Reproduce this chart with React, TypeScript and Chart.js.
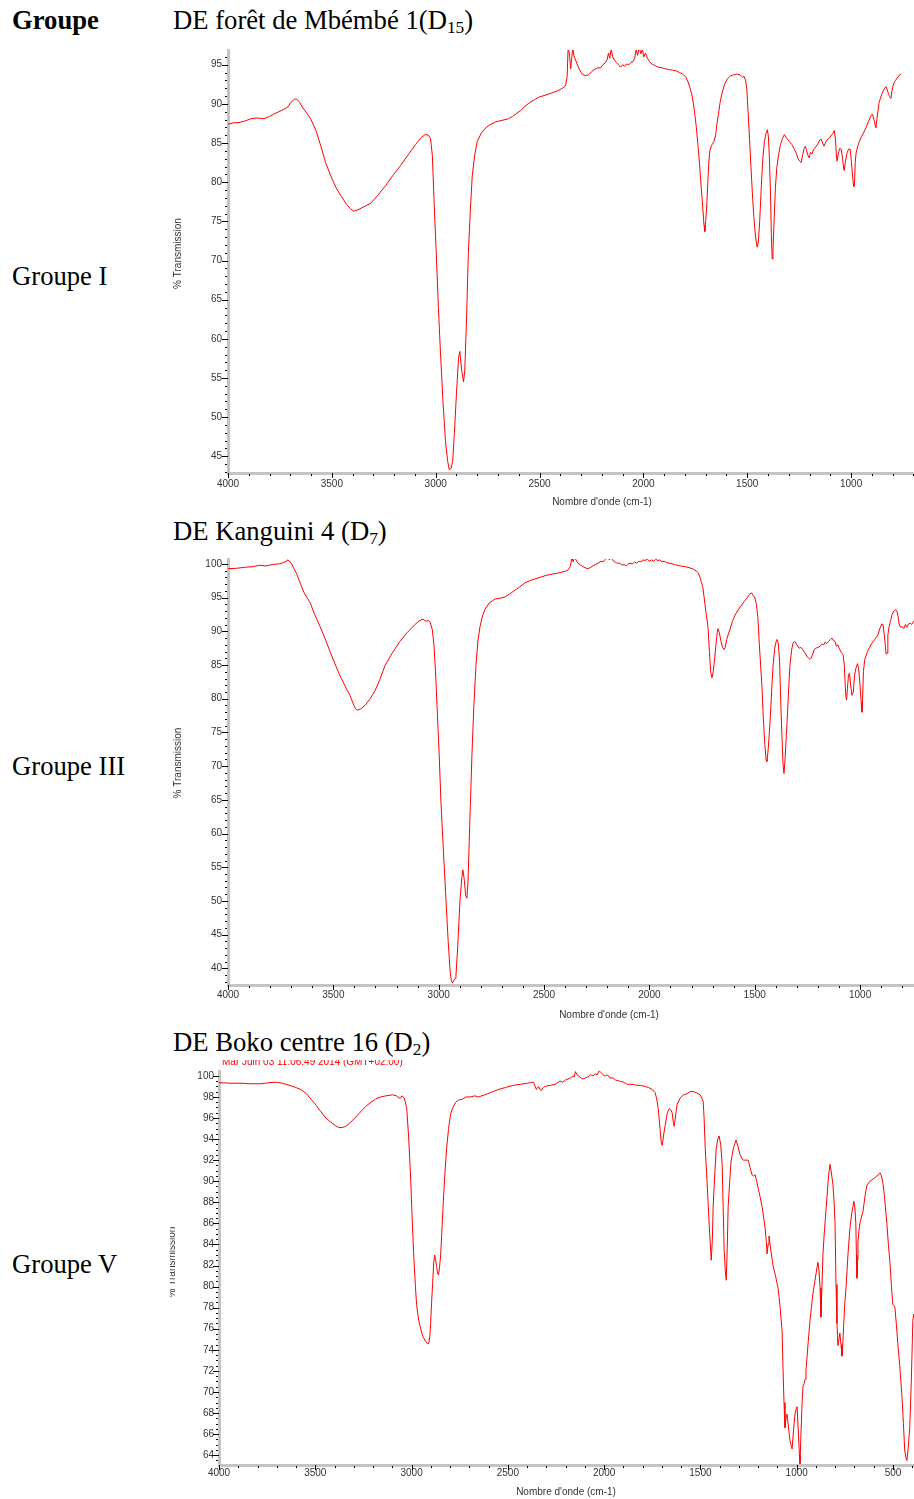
import React, { useEffect, useRef } from 'react';
import { Chart, registerables } from 'chart.js';

Chart.register(...registerables);

// ---------- Spectrum D15 : DE forêt de Mbémbé 1 ----------
const d15Wavenumber = [
  4000, 3970, 3952, 3920, 3890, 3860, 3827, 3800, 3779, 3755, 3731, 3712, 3697, 3680, 3669, 3655, 3640, 3620, 3600, 3575,
  3553, 3530, 3505, 3480, 3457, 3430, 3410, 3395, 3380, 3350, 3313, 3280, 3240, 3205, 3170, 3130, 3097, 3070, 3050, 3035,
  3025, 3016, 3007, 2997, 2987, 2977, 2965, 2953, 2943, 2935, 2925, 2918, 2910, 2900, 2890, 2884, 2875, 2866, 2860, 2852,
  2843, 2833, 2824, 2812, 2800, 2780, 2761, 2740, 2713, 2680, 2650, 2630, 2610, 2593, 2570, 2545, 2520, 2500, 2473, 2440,
  2410, 2390, 2375, 2367, 2362, 2355, 2350, 2345, 2340, 2335, 2325, 2310, 2295, 2280, 2265, 2250, 2235, 2220, 2205, 2195,
  2185, 2175, 2168, 2162, 2155, 2148, 2140, 2130, 2120, 2110, 2100, 2090, 2080, 2070, 2060, 2050, 2042, 2035, 2028, 2020,
  2012, 2005, 1998, 1990, 1980, 1970, 1960, 1945, 1930, 1910, 1897, 1880, 1860, 1840, 1825, 1810, 1795, 1785, 1775, 1765,
  1755, 1745, 1737, 1729, 1722, 1715, 1708, 1704, 1700, 1695, 1690, 1685, 1680, 1672, 1660, 1652, 1645, 1638, 1630, 1620,
  1609, 1595, 1580, 1565, 1550, 1535, 1522, 1515, 1508, 1502, 1496, 1489, 1482, 1475, 1468, 1460, 1452, 1446, 1440, 1432,
  1425, 1417, 1410, 1403, 1398, 1393, 1388, 1384, 1380, 1376, 1370, 1364, 1357, 1349, 1340, 1330, 1321, 1310, 1297, 1285,
  1275, 1264, 1255, 1248, 1240, 1233, 1226, 1220, 1214, 1207, 1201, 1196, 1188, 1180, 1170, 1160, 1150, 1144, 1137, 1130,
  1122, 1113, 1105, 1097, 1088, 1081, 1075, 1070, 1067, 1062, 1055, 1047, 1041, 1036, 1033, 1028, 1020, 1012, 1004, 998,
  992, 987, 984, 980, 976, 968, 960, 950, 940, 928, 915, 905, 899, 894, 888, 883, 880, 876, 870, 865,
  860, 853, 846, 838, 832, 826, 820, 814, 808, 804, 798, 793, 786, 778, 770, 760,
];
const d15Transmission = [
  87.4, 87.6, 87.6, 87.8, 88.1, 88.2, 88.1, 88.4, 88.7, 89.0, 89.3, 89.6, 90.2, 90.6, 90.6, 90.2, 89.5, 88.8, 88.0, 86.5,
  84.6, 82.5, 80.8, 79.3, 78.3, 77.2, 76.6, 76.3, 76.4, 76.8, 77.3, 78.3, 79.6, 80.9, 82.1, 83.6, 84.8, 85.7, 86.1, 86.0,
  85.6, 83.4, 77.0, 70.8, 64.0, 58.3, 52.0, 47.0, 44.5, 43.3, 43.5, 44.5, 48.0, 53.0, 57.5, 58.4, 56.0, 54.5, 56.0, 62.0,
  70.8, 76.5, 80.8, 83.5, 85.2, 86.3, 86.9, 87.3, 87.7, 87.9, 88.1, 88.4, 88.8, 89.1, 89.7, 90.2, 90.6, 90.9, 91.1, 91.4,
  91.7, 92.0, 92.3, 93.5, 97.5, 96.0, 94.5, 95.8, 97.2, 96.2, 95.5, 94.5, 93.8, 93.6, 93.7, 94.1, 94.4, 94.6, 94.6, 95.0,
  95.2, 95.6, 96.5, 95.8, 97.0, 96.0, 95.6, 95.3, 95.0, 94.7, 95.0, 94.8, 95.1, 95.0, 95.3, 95.4, 95.8, 97.0, 96.2, 97.2,
  96.4, 97.0, 96.0, 96.5, 95.8, 95.4, 95.1, 94.9, 94.7, 94.6, 94.5, 94.4, 94.3, 94.2, 94.0, 93.8, 93.4, 92.8, 92.0, 91.0,
  89.3, 87.0, 84.7, 82.1, 79.5, 77.1, 74.5, 73.7, 75.0, 77.0, 79.8, 82.5, 84.0, 84.7, 85.2, 86.0, 87.6, 88.8, 90.3, 91.5,
  92.5, 93.2, 93.6, 93.7, 93.8, 93.7, 93.4, 93.5, 93.0, 92.0, 89.0, 85.6, 82.0, 78.5, 75.5, 73.0, 71.7, 72.5, 75.0, 79.5,
  83.0, 85.2, 86.2, 86.7, 85.8, 83.0, 78.5, 73.5, 70.2, 71.5, 75.5, 79.5, 82.0, 83.5, 84.8, 85.6, 86.1, 85.6, 85.2, 84.8,
  84.3, 83.7, 83.0, 82.7, 82.5, 83.5, 84.3, 84.6, 84.0, 83.4, 83.1, 83.8, 83.6, 84.2, 84.5, 84.9, 85.4, 85.5, 85.0, 84.6,
  85.1, 85.5, 85.6, 85.9, 86.2, 86.6, 85.5, 83.0, 82.7, 83.6, 84.3, 84.2, 83.0, 81.8, 81.5, 82.5, 83.7, 84.2, 84.2, 82.5,
  80.5, 79.4, 79.5, 82.5, 83.7, 84.6, 85.2, 85.8, 86.3, 87.0, 87.8, 88.5, 88.7, 88.4, 87.8, 87.2, 87.0, 88.0, 89.2, 90.2,
  90.6, 91.2, 91.6, 92.0, 92.2, 91.8, 91.3, 90.9, 90.7, 91.5, 92.3, 92.7, 93.0, 93.3, 93.6, 93.8,
];
const d15XTicks = [4000, 3500, 3000, 2500, 2000, 1500, 1000];
const d15YTicks = [45, 50, 55, 60, 65, 70, 75, 80, 85, 90, 95];

// ---------- Spectrum D7 : DE Kanguini 4 ----------
const d7Wavenumber = [
  4000, 3960, 3920, 3880, 3850, 3820, 3790, 3760, 3735, 3715, 3700, 3690, 3675, 3658, 3640, 3625, 3611, 3590, 3563, 3540,
  3516, 3490, 3468, 3440, 3421, 3405, 3395, 3385, 3370, 3350, 3325, 3302, 3280, 3255, 3220, 3184, 3150, 3113, 3090, 3075,
  3060, 3048, 3040, 3030, 3022, 3015, 3008, 2998, 2989, 2977, 2965, 2955, 2946, 2940, 2935, 2928, 2922, 2918, 2910, 2899,
  2890, 2885, 2878, 2872, 2866, 2861, 2852, 2842, 2833, 2823, 2814, 2804, 2792, 2780, 2760, 2733, 2710, 2685, 2665, 2638,
  2615, 2590, 2560, 2519, 2490, 2460, 2424, 2400, 2386, 2375, 2368, 2362, 2355, 2345, 2339, 2325, 2310, 2295, 2282, 2270,
  2256, 2244, 2230, 2220, 2211, 2200, 2190, 2180, 2170, 2160, 2150, 2140, 2130, 2120, 2110, 2100, 2092, 2080, 2070, 2060,
  2050, 2040, 2030, 2021, 2010, 2000, 1990, 1980, 1970, 1960, 1950, 1940, 1930, 1920, 1902, 1880, 1855, 1830, 1807, 1790,
  1775, 1769, 1760, 1752, 1746, 1738, 1730, 1722, 1715, 1709, 1703, 1697, 1690, 1684, 1678, 1674, 1668, 1660, 1652, 1645,
  1640, 1633, 1625, 1618, 1605, 1590, 1570, 1550, 1535, 1525, 1515, 1508, 1500, 1492, 1485, 1478, 1472, 1466, 1459, 1452,
  1446, 1442, 1436, 1428, 1420, 1413, 1405, 1398, 1394, 1388, 1382, 1376, 1371, 1366, 1361, 1356, 1350, 1344, 1338, 1333,
  1325, 1318, 1309, 1300, 1290, 1280, 1270, 1262, 1250, 1240, 1232, 1225, 1218, 1210, 1200, 1190, 1180, 1172, 1165, 1158,
  1150, 1140, 1133, 1126, 1119, 1112, 1105, 1098, 1090, 1081, 1075, 1068, 1064, 1060, 1055, 1050, 1045, 1038, 1032, 1026,
  1020, 1012, 1007, 1000, 995, 991, 988, 984, 978, 972, 965, 955, 945, 930, 915, 905, 897, 891, 885, 880,
  876, 872, 868, 862, 855, 848, 840, 833, 825, 820, 815, 808, 800, 792, 785, 778, 770, 762, 755, 748,
  744,
];
const d7Transmission = [
  99.3, 99.35, 99.5, 99.6, 99.8, 99.7, 99.9, 100.0, 100.2, 100.6, 100.1, 99.5, 98.6, 97.2, 95.8, 95.0, 94.3, 92.6, 90.7, 89.0,
  87.0, 85.0, 83.4, 81.6, 80.5, 79.2, 78.5, 78.3, 78.5, 79.0, 80.0, 81.2, 82.8, 84.9, 86.8, 88.5, 89.8, 91.0, 91.6, 91.8,
  91.5, 91.6, 91.3, 90.2, 87.8, 84.0, 79.0, 72.0, 64.5, 57.0, 50.0, 44.0, 39.7, 38.2, 37.8, 38.2, 38.5, 39.0, 43.0, 50.0,
  53.5, 54.6, 53.0, 50.8, 50.4, 52.8, 62.0, 71.8, 79.0, 84.9, 88.5, 90.7, 92.3, 93.3, 94.2, 94.8, 94.9, 95.1, 95.5, 96.1,
  96.6, 97.2, 97.6, 98.0, 98.3, 98.5, 98.7, 98.9, 99.1, 99.6, 101.0, 100.3, 101.0, 100.4, 100.1, 99.8, 99.5, 99.3, 99.4, 99.7,
  99.9, 100.1, 100.4, 100.3, 100.6, 101.0, 100.6, 101.0, 100.4, 100.2, 100.1, 100.1, 99.8, 99.9, 99.7, 100.0, 100.1, 100.0, 100.3, 100.1,
  100.4, 100.3, 100.6, 100.5, 100.7, 100.4, 100.6, 100.4, 100.7, 100.5, 100.6, 100.3, 100.4, 100.2, 100.1, 99.9, 99.7, 99.6, 99.4, 99.2,
  98.9, 98.7, 98.0, 97.2, 96.5, 94.5, 92.5, 90.7, 87.0, 84.0, 83.1, 84.0, 86.0, 88.0, 89.8, 90.4, 89.8, 88.5, 87.6, 87.3,
  87.6, 88.8, 89.6, 90.2, 91.6, 92.6, 93.6, 94.4, 95.0, 95.5, 95.7, 95.3, 95.1, 94.0, 92.1, 88.0, 85.0, 82.0, 77.0, 73.2,
  71.0, 70.7, 72.5, 76.1, 81.0, 84.9, 87.5, 88.5, 88.8, 88.2, 85.5, 79.0, 74.7, 70.5, 68.9, 71.0, 74.5, 78.0, 82.0, 84.9,
  87.2, 88.3, 88.5, 88.0, 87.5, 87.6, 87.2, 86.8, 86.2, 85.9, 86.0, 86.6, 87.3, 87.5, 87.6, 87.8, 88.1, 88.0, 88.4, 88.2,
  88.5, 88.8, 89.0, 88.6, 88.5, 87.8, 88.0, 87.4, 86.9, 86.6, 85.0, 80.5, 79.8, 81.5, 83.5, 83.8, 82.0, 80.5, 81.0, 83.5,
  84.5, 85.2, 84.5, 82.0, 79.5, 78.0, 80.0, 84.0, 85.8, 86.3, 87.0, 87.6, 88.2, 88.8, 89.5, 90.5, 91.1, 91.0, 89.5, 87.8,
  86.6, 86.8, 89.5, 90.7, 91.6, 92.5, 93.0, 93.2, 93.0, 92.3, 91.2, 90.6, 90.7, 90.4, 91.0, 90.6, 91.1, 91.2, 91.0, 91.4,
  91.5,
];
const d7XTicks = [4000, 3500, 3000, 2500, 2000, 1500, 1000];
const d7YTicks = [40, 45, 50, 55, 60, 65, 70, 75, 80, 85, 90, 95, 100];

// ---------- Spectrum D2 : DE Boko centre 16 ----------
const d2Wavenumber = [
  4000, 3940, 3886, 3840, 3782, 3740, 3705, 3670, 3653, 3616, 3575, 3545, 3523, 3495, 3471, 3445, 3419, 3398, 3378, 3360,
  3342, 3316, 3295, 3274, 3238, 3210, 3186, 3160, 3134, 3098, 3077, 3067, 3058, 3051, 3043, 3036, 3025, 3015, 3005, 2997,
  2989, 2980, 2974, 2963, 2953, 2940, 2927, 2918, 2911, 2905, 2901, 2896, 2891, 2885, 2880, 2875, 2870, 2865, 2860, 2855,
  2849, 2842, 2834, 2826, 2818, 2808, 2797, 2785, 2771, 2755, 2735, 2715, 2694, 2672, 2652, 2620, 2590, 2550, 2512, 2470,
  2434, 2400, 2383, 2367, 2358, 2352, 2346, 2341, 2333, 2326, 2316, 2305, 2280, 2253, 2230, 2215, 2201, 2188, 2175, 2162,
  2155, 2149, 2141, 2134, 2120, 2110, 2097, 2085, 2070, 2058, 2046, 2035, 2027, 2020, 2010, 2000, 1994, 1983, 1970, 1952,
  1942, 1920, 1900, 1890, 1880, 1850, 1830, 1812, 1790, 1770, 1750, 1735, 1727, 1719, 1710, 1703, 1698, 1692, 1683, 1672,
  1662, 1655, 1647, 1641, 1636, 1629, 1621, 1605, 1589, 1570, 1555, 1538, 1520, 1501, 1486, 1481, 1475, 1467, 1460, 1452,
  1444, 1438, 1434, 1426, 1418, 1410, 1403, 1395, 1387, 1382, 1377, 1371, 1366, 1361, 1356, 1348, 1341, 1328, 1315, 1305,
  1294, 1285, 1278, 1265, 1252, 1242, 1232, 1224, 1216, 1208, 1201, 1190, 1180, 1172, 1164, 1158, 1154, 1149, 1144, 1135,
  1123, 1110, 1097, 1086, 1076, 1071, 1066, 1061, 1056, 1050, 1042, 1035, 1030, 1024, 1016, 1009, 1004, 998, 991, 986,
  983, 978, 972, 967, 962, 957, 952, 947, 940, 931, 924, 916, 905, 895, 890, 884, 879, 874, 869, 864,
  858, 851, 843, 835, 827, 820, 812, 806, 801, 796, 791, 786, 781, 776, 770, 765, 760, 755, 750, 744,
  734, 724, 714, 703, 698, 693, 690, 687, 684, 682, 677, 672, 664, 656, 646, 636, 620, 604, 590, 578,
  568, 560, 553, 544, 532, 524, 516, 508, 501, 495, 490, 483, 475, 465, 454, 446, 439, 433, 428, 422,
  413, 405, 397, 392,
];
const d2Transmission = [
  99.35, 99.3, 99.3, 99.25, 99.25, 99.35, 99.4, 99.3, 99.2, 99.0, 98.7, 98.3, 97.8, 97.2, 96.6, 96.0, 95.6, 95.3, 95.1, 95.1,
  95.2, 95.6, 96.0, 96.4, 97.1, 97.5, 97.8, 98.0, 98.1, 98.2, 98.1, 97.9, 97.9, 98.1, 98.0, 97.8, 96.9, 94.1, 90.4, 86.5,
  83.0, 80.0, 78.3, 76.8, 76.0, 75.2, 74.8, 74.6, 74.6, 75.3, 76.5, 78.5, 80.2, 82.3, 83.0, 82.5, 81.9, 81.3, 81.1, 81.8,
  83.0, 85.5, 88.5, 91.0, 93.1, 95.0, 96.4, 97.0, 97.5, 97.7, 97.8, 98.0, 98.0, 98.1, 98.0, 98.2, 98.4, 98.7, 98.9, 99.1,
  99.2, 99.3, 99.35, 99.4, 99.0, 98.7, 98.9, 99.0, 98.7, 98.6, 98.9, 99.0, 99.1, 99.2, 99.5, 99.4, 99.6, 99.7, 99.8, 100.0,
  99.9, 100.4, 100.1, 100.0, 99.8, 99.7, 99.8, 99.9, 100.1, 100.0, 100.2, 100.1, 100.5, 100.4, 100.2, 100.0, 100.0, 100.1, 99.8, 99.8,
  99.6, 99.5, 99.4, 99.3, 99.2, 99.2, 99.1, 99.1, 99.0, 98.9, 98.7, 98.4, 97.8, 96.9, 95.0, 93.6, 93.4, 94.3, 95.3, 96.5,
  96.9, 96.8, 96.5, 95.6, 95.2, 96.2, 97.3, 97.9, 98.2, 98.3, 98.5, 98.5, 98.4, 98.2, 97.6, 96.0, 93.1, 90.5, 87.9, 85.0,
  82.5, 84.5, 87.6, 90.5, 93.1, 94.0, 94.3, 93.5, 91.6, 87.5, 83.6, 81.5, 80.6, 83.5, 87.6, 90.0, 91.9, 93.2, 93.9, 93.3,
  92.5, 92.2, 92.0, 92.0, 92.0, 91.3, 90.6, 90.5, 90.6, 90.0, 89.4, 88.5, 87.6, 86.6, 85.5, 84.3, 83.1, 84.0, 84.8, 83.5,
  82.0, 81.0, 79.9, 78.0, 75.8, 72.1, 69.0, 66.6, 67.5, 67.9, 66.5, 65.4, 65.0, 64.6, 66.5, 67.9, 68.3, 68.6, 66.0, 64.0,
  63.2, 66.0, 69.0, 70.6, 70.8, 71.2, 72.0, 73.2, 74.8, 76.8, 78.0, 79.3, 80.6, 81.8, 82.3, 81.5, 79.9, 77.1, 80.0, 83.0,
  84.8, 86.5, 88.5, 90.5, 91.6, 90.8, 89.7, 88.0, 86.0, 80.2, 76.5, 74.4, 75.0, 75.6, 74.5, 73.4, 74.8, 76.8, 78.5, 79.9,
  83.0, 85.5, 87.0, 88.1, 87.5, 86.0, 83.0, 80.8, 82.5, 84.2, 85.3, 86.0, 86.6, 87.1, 88.5, 89.6, 90.0, 90.2, 90.4, 90.6,
  90.8, 90.5, 89.9, 88.5, 86.0, 84.0, 82.3, 80.0, 78.3, 78.2, 78.0, 76.5, 74.6, 72.5, 69.7, 67.0, 64.4, 63.8, 63.5, 64.5,
  66.6, 71.0, 76.8, 77.4,
];
const d2XTicks = [4000, 3500, 3000, 2500, 2000, 1500, 1000, 500];
const d2YTicks = [64, 66, 68, 70, 72, 74, 76, 78, 80, 82, 84, 86, 88, 90, 92, 94, 96, 98, 100];

// ---------- Axis texts ----------
const xAxisTitle = "Nombre d'onde (cm-1)";
const yAxisTitle = '% Transmission';
const d2Header = 'Mar Juin 03 11:06:49 2014 (GMT+02:00)';

const FONT_SANS = '"Liberation Sans", Arial, sans-serif';
const FONT_SERIF = '"Liberation Serif", "Times New Roman", serif';

const axisDecor = {
  id: 'axisDecor',
  afterDraw(chart: any, _args: any, opts: any) {
    const { ctx, chartArea, scales } = chart;
    const x = scales.x;
    const y = scales.y;
    ctx.save();
    ctx.fillStyle = '#000';
    // y ticks (minor + major)
    const yStart = Math.ceil(y.min / opts.yMinor - 1e-9) * opts.yMinor;
    for (let v = yStart; v <= y.max + 1e-9; v += opts.yMinor) {
      const py = Math.round(y.getPixelForValue(v));
      const r = v / opts.yMajor;
      const major = Math.abs(r - Math.round(r)) < 1e-6;
      if (major) ctx.fillRect(chartArea.left - 6, py, 6, 1);
      else ctx.fillRect(chartArea.left - 3, py, 2, 1);
    }
    // x ticks (minor + major)
    const xStart = Math.ceil(x.min / 100) * 100;
    for (let v = xStart; v <= x.max + 1e-9; v += 100) {
      const px = Math.round(x.getPixelForValue(v));
      const major = v % 500 === 0;
      if (major) ctx.fillRect(px, chartArea.bottom, 1, 5);
      else ctx.fillRect(px, chartArea.bottom + 1, 1, 2);
    }
    ctx.font = '10px ' + FONT_SANS;
    ctx.fillStyle = '#333';
    // x title
    ctx.textAlign = 'center';
    ctx.textBaseline = 'middle';
    ctx.fillText(xAxisTitle, opts.xTitleX, opts.xTitleY);
    // y title
    ctx.save();
    ctx.translate(opts.titleX, (chartArea.top + chartArea.bottom) / 2 + opts.titleDy);
    ctx.rotate(-Math.PI / 2);
    ctx.textAlign = 'center';
    ctx.textBaseline = 'middle';
    ctx.fillText(yAxisTitle, 0, 0);
    ctx.restore();
    // header
    if (opts.header) {
      ctx.fillStyle = '#ff0000';
      ctx.textAlign = 'left';
      ctx.textBaseline = 'alphabetic';
      ctx.fillText(opts.header, chartArea.left + 3, opts.headerY);
    }
    ctx.restore();
  },
};

type SpecProps = {
  wn: number[];
  tr: number[];
  xTicks: number[];
  yTicks: number[];
  top: number;
  height: number;
  yAxisWidth: number;
  xAxisHeight: number;
  padTop: number;
  xMin: number;
  yMin: number;
  yMax: number;
  yStep: number;
  yMinor: number;
  yLabelPad: number;
  xLabelPad: number;
  xTitleX: number;
  xTitleY: number;
  titleX: number;
  titleDy: number;
  header?: string;
  headerY?: number;
};

function Spectrum(p: SpecProps) {
  const ref = useRef<HTMLCanvasElement | null>(null);
  useEffect(() => {
    if (!ref.current) return;
    const points = p.wn.map((w, i) => ({ x: w, y: p.tr[i] }));
    const chart = new Chart(ref.current, {
      type: 'line',
      data: {
        datasets: [
          {
            data: points,
            borderColor: '#ff0000',
            borderWidth: 1,
            pointRadius: 0,
            tension: 0,
            fill: false,
          },
        ],
      },
      options: {
        responsive: false,
        animation: false,
        devicePixelRatio: 1,
        layout: { padding: { top: p.padTop, right: 0, bottom: 0, left: 0 } },
        plugins: {
          legend: { display: false },
          title: { display: false },
          tooltip: { enabled: false },
          axisDecor: {
            yMinor: p.yMinor,
            yMajor: p.yStep,
            titleX: p.titleX,
            titleDy: p.titleDy,
            xTitleX: p.xTitleX,
            xTitleY: p.xTitleY,
            header: p.header,
            headerY: p.headerY,
          },
        } as any,
        scales: {
          x: {
            type: 'linear',
            reverse: true,
            min: p.xMin,
            max: 4000,
            grid: { display: false, drawTicks: false },
            border: { display: true, color: '#c4c4c4', width: 3 },
            afterBuildTicks: (s: any) => {
              s.ticks = p.xTicks.map((v) => ({ value: v }));
            },
            ticks: {
              autoSkip: false,
              maxRotation: 0,
              minRotation: 0,
              padding: p.xLabelPad,
              color: '#333',
              font: { family: FONT_SANS, size: 10 },
              callback: (v: any) => String(v),
            },
            title: { display: false },
            afterFit: (s: any) => {
              s.height = p.xAxisHeight;
            },
          },
          y: {
            type: 'linear',
            min: p.yMin,
            max: p.yMax,
            grid: { display: false, drawTicks: false },
            border: { display: true, color: '#c4c4c4', width: 3 },
            afterBuildTicks: (s: any) => {
              s.ticks = p.yTicks.map((v) => ({ value: v }));
            },
            ticks: {
              autoSkip: false,
              padding: p.yLabelPad,
              color: '#333',
              font: { family: FONT_SANS, size: 10 },
              callback: (v: any) => String(v),
            },
            afterFit: (s: any) => {
              s.width = p.yAxisWidth;
            },
          },
        },
      } as any,
      plugins: [axisDecor],
    });
    return () => chart.destroy();
  }, []);
  return (
    <canvas
      ref={ref}
      width={744}
      height={p.height}
      style={{ position: 'absolute', left: 170, top: p.top, width: 744, height: p.height }}
    />
  );
}

const serifText = (top: number, left: number, bold = false): React.CSSProperties => ({
  position: 'absolute',
  top,
  left,
  fontFamily: FONT_SERIF,
  fontSize: '26.67px',
  lineHeight: 1,
  fontWeight: bold ? 'bold' : 'normal',
  color: '#000',
  whiteSpace: 'nowrap',
});

const subStyle: React.CSSProperties = { fontSize: '0.65em', position: 'relative', top: '0.22em' };

export default function App() {
  return (
    <div
      style={{
        position: 'absolute',
        left: 0,
        top: 0,
        width: 914,
        height: 1499,
        overflow: 'hidden',
        background: '#fff',
      }}
    >
      <div style={serifText(7, 12, true)}>Groupe</div>
      <div style={serifText(263, 12)}>Groupe I</div>
      <div style={serifText(753, 12)}>Groupe III</div>
      <div style={serifText(1251, 12)}>Groupe V</div>

      <div style={serifText(7, 173)}>
        DE forêt de Mbémbé 1(D<span style={subStyle}>15</span>)
      </div>
      <div style={serifText(518, 173)}>
        DE Kanguini 4 (D<span style={subStyle}>7</span>)
      </div>
      <div style={serifText(1029, 173)}>
        DE Boko centre 16 (D<span style={subStyle}>2</span>)
      </div>

      <Spectrum
        wn={d15Wavenumber}
        tr={d15Transmission}
        xTicks={d15XTicks}
        yTicks={d15YTicks}
        top={38}
        height={474}
        yAxisWidth={58}
        xAxisHeight={39}
        padTop={4}
        xMin={697}
        yMin={42.87}
        yMax={96.88}
        yStep={5}
        yMinor={1}
        yLabelPad={6}
        xLabelPad={5}
        xTitleX={432}
        xTitleY={464}
        titleX={8}
        titleDy={-8}
      />
      <Spectrum
        wn={d7Wavenumber}
        tr={d7Transmission}
        xTicks={d7XTicks}
        yTicks={d7YTicks}
        top={547}
        height={478}
        yAxisWidth={58}
        xAxisHeight={40}
        padTop={4}
        xMin={744}
        yMin={37.53}
        yMax={100.73}
        yStep={5}
        yMinor={1}
        yLabelPad={6}
        xLabelPad={4}
        xTitleX={439}
        xTitleY={468}
        titleX={8}
        titleDy={-9}
      />
      <Spectrum
        wn={d2Wavenumber}
        tr={d2Transmission}
        xTicks={d2XTicks}
        yTicks={d2YTicks}
        top={1060}
        height={439}
        yAxisWidth={49}
        xAxisHeight={34}
        padTop={1}
        xMin={391}
        yMin={63.07}
        yMax={100.46}
        yStep={2}
        yMinor={0.5}
        yLabelPad={5}
        xLabelPad={2}
        xTitleX={396}
        xTitleY={432}
        titleX={2}
        titleDy={-6}
        header={d2Header}
        headerY={5}
      />
    </div>
  );
}
